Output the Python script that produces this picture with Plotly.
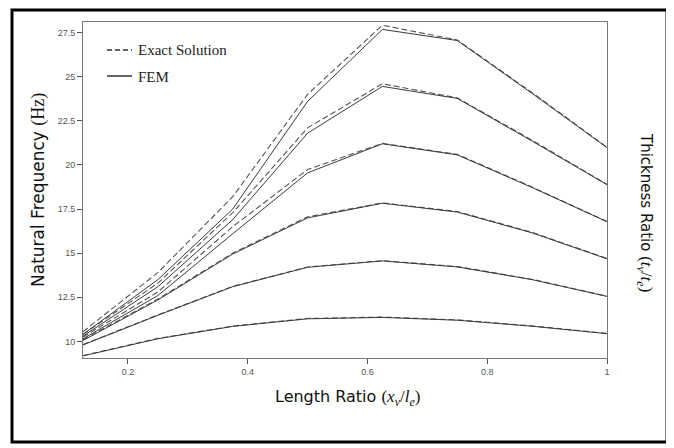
import plotly.graph_objects as go

length_ratio = [0.125, 0.25, 0.375, 0.5, 0.625, 0.75, 0.875, 1.0]

exact = [
    [9.20, 10.17, 10.87, 11.30, 11.38, 11.22, 10.88, 10.45],
    [9.82, 11.50, 13.12, 14.22, 14.58, 14.24, 13.52, 12.56],
    [10.10, 12.40, 15.00, 17.06, 17.85, 17.36, 16.18, 14.70],
    [10.25, 12.80, 16.50, 19.74, 21.22, 20.60, 18.75, 16.80],
    [10.40, 13.30, 17.30, 22.10, 24.60, 23.80, 21.40, 18.90],
    [10.55, 13.90, 18.20, 24.00, 27.92, 27.08, 24.10, 21.00],
]
fem = [
    [9.18, 10.15, 10.85, 11.28, 11.36, 11.20, 10.86, 10.44],
    [9.80, 11.48, 13.10, 14.20, 14.56, 14.22, 13.50, 12.55],
    [10.05, 12.35, 14.95, 17.00, 17.83, 17.33, 16.15, 14.68],
    [10.15, 12.60, 16.10, 19.55, 21.20, 20.57, 18.72, 16.78],
    [10.30, 13.10, 16.90, 21.80, 24.45, 23.77, 21.35, 18.88],
    [10.40, 13.50, 17.50, 23.60, 27.68, 27.05, 24.05, 20.98],
]
x_ticks = [0.2, 0.4, 0.6, 0.8, 1.0]
x_tick_labels = ["0.2", "0.4", "0.6", "0.8", "1"]
y_ticks = [10, 12.5, 15, 17.5, 20, 22.5, 25, 27.5]
y_tick_labels = ["10", "12.5", "15", "17.5", "20", "22.5", "25", "27.5"]

fig = go.Figure()
for ys in exact:
    fig.add_trace(go.Scatter(x=length_ratio, y=ys, mode="lines", showlegend=False,
                             line=dict(color="#555555", width=1.1, dash="6px,3px")))
for ys in fem:
    fig.add_trace(go.Scatter(x=length_ratio, y=ys, mode="lines", showlegend=False,
                             line=dict(color="#3a3a3a", width=1.0)))

OFF = 8  # default page body margin
W, H = 674 - OFF, 448 - OFF
L, R, T, B = 83, 607, 22, 358   # plot area in page pixels
def px(x):
    return (x - L) / (R - L)
def py(y):
    return (B - y) / (B - T)

shapes = [
    dict(type="rect", xref="paper", yref="paper", x0=px(12), x1=px(667), y0=py(442), y1=py(10),
         line=dict(color="black", width=3)),
    dict(type="line", xref="paper", yref="paper", x0=px(107), x1=px(132), y0=py(50), y1=py(50),
         line=dict(color="#333333", width=1.3, dash="5px,3px")),
    dict(type="line", xref="paper", yref="paper", x0=px(107), x1=px(132), y0=py(76), y1=py(76),
         line=dict(color="#333333", width=1.5)),
]

serif = "Liberation Serif, Times New Roman, serif"
sans = "DejaVu Sans, sans-serif"
annotations = [
    dict(xref="paper", yref="paper", x=px(136), y=py(50), xanchor="left", yanchor="middle",
         text="Exact Solution", showarrow=False, font=dict(family=serif, size=15, color="#222")),
    dict(xref="paper", yref="paper", x=px(136), y=py(77), xanchor="left", yanchor="middle",
         text="FEM", showarrow=False, font=dict(family=serif, size=15, color="#222")),
    dict(xref="paper", yref="paper", x=px(38), y=py(190), xanchor="center", yanchor="middle",
         textangle=-90, showarrow=False,
         text='Natural Frequency <span style="font-family:Liberation Serif;font-size:18px">(Hz)</span>',
         font=dict(family=sans, size=17, color="#111")),
    dict(xref="paper", yref="paper", x=px(347), y=py(398), xanchor="center", yanchor="middle",
         showarrow=False,
         text='Length Ratio <span style="font-family:Liberation Serif;font-size:17px">(<i>x</i><sub><i>v</i></sub>/<i>l</i><sub><i>e</i></sub>)</span>',
         font=dict(family=sans, size=16, color="#111")),
    dict(xref="paper", yref="paper", x=px(645), y=py(212), xanchor="center", yanchor="middle",
         textangle=90, showarrow=False,
         text='Thickness Ratio <span style="font-family:Liberation Serif;font-size:17px">(<i>t</i><sub><i>v</i></sub>/<i>t</i><sub><i>e</i></sub>)</span>',
         font=dict(family=sans, size=15, color="#111")),
]

fig.update_layout(
    width=W, height=H,
    margin=dict(l=L - OFF, r=W + OFF - R, t=T - OFF, b=H + OFF - B, pad=0),
    paper_bgcolor="white", plot_bgcolor="white",
    shapes=shapes, annotations=annotations,
    xaxis=dict(range=[0.125, 1.0], tickvals=x_ticks, ticktext=x_tick_labels,
               showgrid=False, zeroline=False, showline=True, linecolor="#777", linewidth=1,
               mirror=True, ticks="outside", ticklen=5, tickcolor="#555",
               tickfont=dict(family="Liberation Sans, Arial", size=9, color="#555")),
    yaxis=dict(range=[9.06, 28.1], tickvals=y_ticks, ticktext=y_tick_labels,
               showgrid=False, zeroline=False, showline=True, linecolor="#777", linewidth=1,
               mirror=True, ticks="outside", ticklen=5, tickcolor="#555",
               tickfont=dict(family="Liberation Sans, Arial", size=9, color="#555")),
)

fig.write_html("out.html")
